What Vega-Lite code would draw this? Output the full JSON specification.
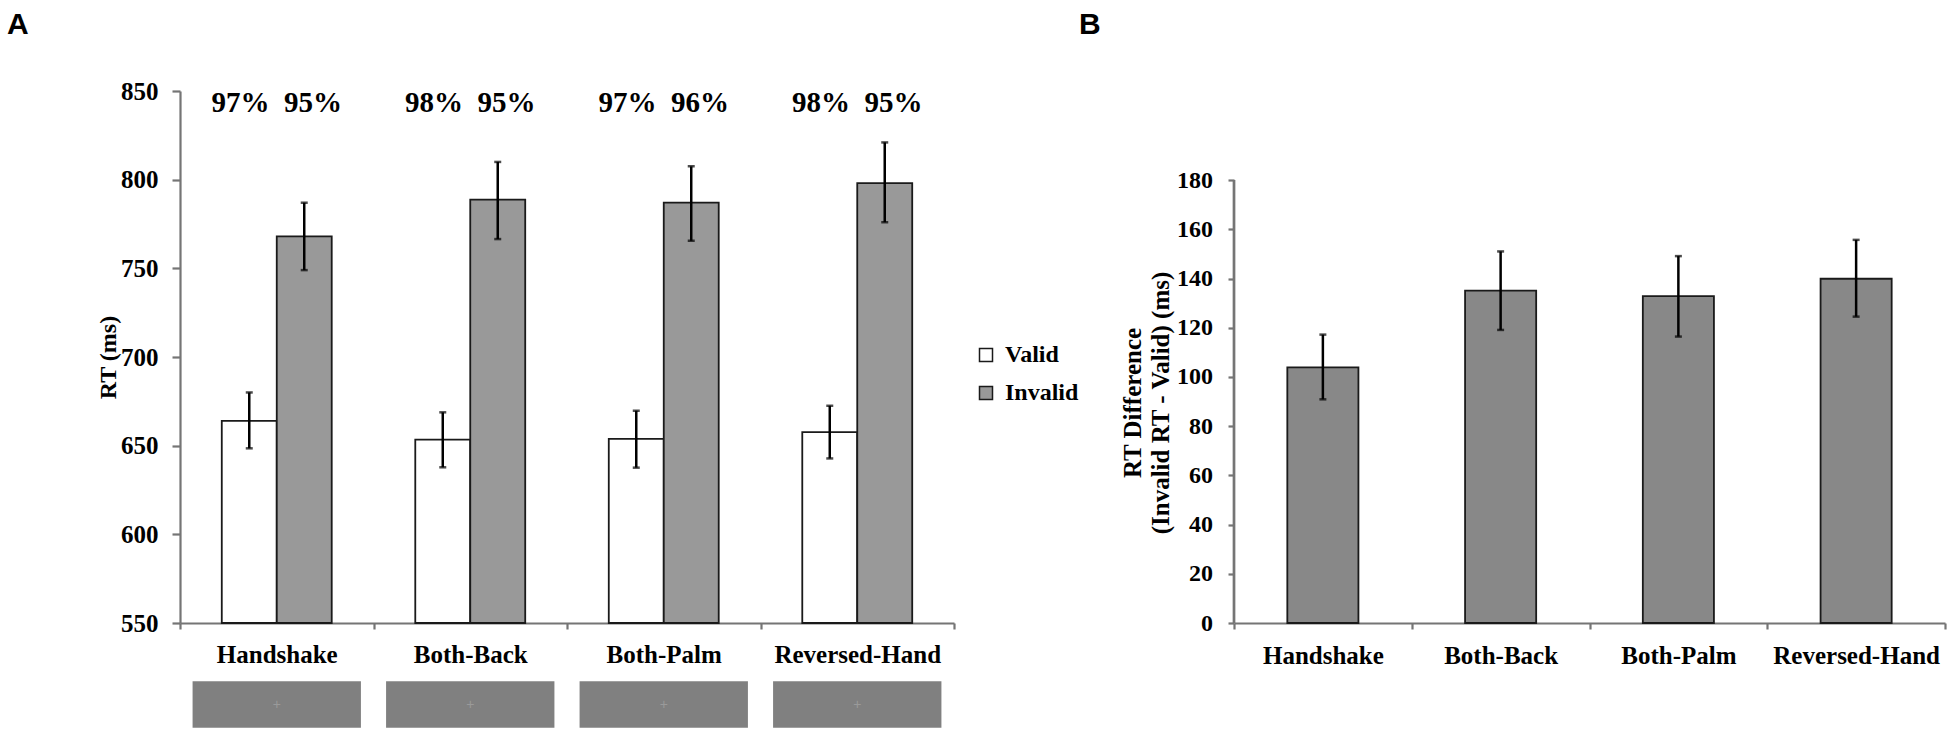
{
  "$schema": "https://vega.github.io/schema/vega-lite/v6.json",
  "background": "white",
  "padding": {"left": 7, "top": 9, "right": 0, "bottom": 0},
  "config": {
    "view": {"stroke": null},
    "font": "Liberation Serif",
    "axis": {
      "labelFont": "Liberation Serif",
      "labelFontWeight": "bold",
      "labelColor": "black",
      "labelFontSize": 24,
      "titleFont": "Liberation Serif",
      "titleFontWeight": "bold",
      "titleColor": "black",
      "titleFontSize": 24,
      "domainColor": "#757575",
      "tickColor": "#757575",
      "domainWidth": 2.2,
      "tickWidth": 2.2,
      "tickSize": 6,
      "grid": false,
      "labelOverlap": false
    }
  },
  "datasets": {
    "rt": [
      {"grip": "Handshake", "cue": "Valid", "rt": 664.0, "lo": 648.5, "hi": 680.0},
      {"grip": "Handshake", "cue": "Invalid", "rt": 768.0, "lo": 749.0, "hi": 787.0},
      {"grip": "Both-Back", "cue": "Valid", "rt": 653.4, "lo": 637.8, "hi": 668.8},
      {"grip": "Both-Back", "cue": "Invalid", "rt": 788.7, "lo": 766.5, "hi": 810.0},
      {"grip": "Both-Palm", "cue": "Valid", "rt": 653.8, "lo": 637.6, "hi": 669.7},
      {"grip": "Both-Palm", "cue": "Invalid", "rt": 787.0, "lo": 765.5, "hi": 807.5},
      {"grip": "Reversed-Hand", "cue": "Valid", "rt": 657.6, "lo": 642.8, "hi": 672.5},
      {"grip": "Reversed-Hand", "cue": "Invalid", "rt": 798.0, "lo": 776.0, "hi": 821.0}
    ],
    "pct": [
      {"grip": "Handshake", "acc": "97%\u00a0 95%"},
      {"grip": "Both-Back", "acc": "98%\u00a0 95%"},
      {"grip": "Both-Palm", "acc": "97%\u00a0 96%"},
      {"grip": "Reversed-Hand", "acc": "98%\u00a0 95%"}
    ],
    "diff": [
      {"grip": "Handshake", "d": 103.9, "lo": 90.9, "hi": 117.2},
      {"grip": "Both-Back", "d": 135.1, "lo": 119.1, "hi": 151.0},
      {"grip": "Both-Palm", "d": 132.8, "lo": 116.4, "hi": 149.1},
      {"grip": "Reversed-Hand", "d": 139.9, "lo": 124.5, "hi": 155.7}
    ]
  },
  "spacing": 0,
  "resolve": {
    "scale": {"x": "independent", "y": "independent", "fill": "independent", "xOffset": "independent"},
    "legend": {"fill": "independent"},
    "axis": {"x": "independent", "y": "independent"}
  },
  "hconcat": [
    {
      "width": 774,
      "height": 532,
      "title": {"text": "A", "anchor": "start", "frame": "group", "dx": -173, "offset": 39.5, "font": "Liberation Sans", "fontSize": 30, "fontWeight": "bold", "color": "black"},
      "layer": [
        {
          "data": {"name": "rt"},
          "mark": {"type": "bar", "stroke": "#1a1a1a", "strokeWidth": 1.8},
          "encoding": {
            "x": {"field": "grip", "type": "nominal", "sort": ["Handshake", "Both-Back", "Both-Palm", "Reversed-Hand"], "title": null,
                  "scale": {"paddingInner": 0, "paddingOuter": 0},
                  "axis": {"title": null, "tickBand": "extent", "labelAngle": 0, "labelFontSize": 25, "labelBaseline": "alphabetic", "labelPadding": 33.5}},
            "xOffset": {"field": "cue", "type": "nominal", "sort": ["Valid", "Invalid"], "scale": {"paddingInner": 0, "paddingOuter": 0.76}},
            "y": {"field": "rt", "type": "quantitative", "title": "RT (ms)",
                  "scale": {"domain": [550, 850], "nice": false, "zero": false},
                  "axis": {"values": [550, 600, 650, 700, 750, 800, 850], "labelFontSize": 25, "tickSize": 8, "labelPadding": 14, "labelBaseline": "middle", "titleX": -64.5, "titleBaseline": "alphabetic"}},
            "y2": {"datum": 550},
            "fill": {"field": "cue", "type": "nominal", "sort": ["Valid", "Invalid"],
                     "scale": {"domain": ["Valid", "Invalid"], "range": ["#ffffff", "#999999"]},
                     "legend": {"orient": "none", "legendX": 794, "legendY": 252, "title": null, "symbolType": "square", "symbolSize": 169,
                                "symbolStrokeColor": "#1a1a1a", "symbolStrokeWidth": 1.5, "labelFont": "Liberation Serif", "labelFontWeight": "bold",
                                "labelFontSize": 24, "labelColor": "black", "labelOffset": 7, "rowPadding": 14, "padding": 0}}
          }
        },
        {
          "data": {"name": "rt"},
          "mark": {"type": "rule", "color": "black", "strokeWidth": 2.5},
          "encoding": {
            "x": {"field": "grip", "type": "nominal", "sort": ["Handshake", "Both-Back", "Both-Palm", "Reversed-Hand"], "title": null},
            "xOffset": {"field": "cue", "type": "nominal", "sort": ["Valid", "Invalid"]},
            "y": {"field": "lo", "type": "quantitative", "title": "RT (ms)"},
            "y2": {"field": "hi"}
          }
        },
        {
          "data": {"name": "rt"},
          "mark": {"type": "tick", "color": "black", "thickness": 2.5, "size": 7},
          "encoding": {
            "x": {"field": "grip", "type": "nominal", "sort": ["Handshake", "Both-Back", "Both-Palm", "Reversed-Hand"], "title": null},
            "xOffset": {"field": "cue", "type": "nominal", "sort": ["Valid", "Invalid"]},
            "y": {"field": "lo", "type": "quantitative", "title": "RT (ms)"}
          }
        },
        {
          "data": {"name": "rt"},
          "mark": {"type": "tick", "color": "black", "thickness": 2.5, "size": 7},
          "encoding": {
            "x": {"field": "grip", "type": "nominal", "sort": ["Handshake", "Both-Back", "Both-Palm", "Reversed-Hand"], "title": null},
            "xOffset": {"field": "cue", "type": "nominal", "sort": ["Valid", "Invalid"]},
            "y": {"field": "hi", "type": "quantitative", "title": "RT (ms)"}
          }
        },
        {
          "data": {"name": "pct"},
          "mark": {"type": "text", "font": "Liberation Serif", "fontWeight": "bold", "fontSize": 29, "color": "black", "align": "center", "baseline": "alphabetic"},
          "encoding": {
            "x": {"field": "grip", "type": "nominal", "sort": ["Handshake", "Both-Back", "Both-Palm", "Reversed-Hand"], "title": null},
            "y": {"datum": 838, "type": "quantitative", "title": "RT (ms)"},
            "text": {"field": "acc"}
          }
        },
        {
          "data": {"name": "pct"},
          "mark": {"type": "bar", "width": {"band": 0.87}, "fill": "#808080", "stroke": null},
          "encoding": {
            "x": {"field": "grip", "type": "nominal", "sort": ["Handshake", "Both-Back", "Both-Palm", "Reversed-Hand"], "title": null},
            "y": {"datum": 517.2, "type": "quantitative", "title": "RT (ms)"},
            "y2": {"datum": 490.9}
          }
        },
        {
          "data": {"name": "pct"},
          "mark": {"type": "text", "text": "+", "font": "Liberation Sans", "fontSize": 14, "color": "#9a9a9a", "align": "center", "baseline": "middle"},
          "encoding": {
            "x": {"field": "grip", "type": "nominal", "sort": ["Handshake", "Both-Back", "Both-Palm", "Reversed-Hand"], "title": null},
            "y": {"datum": 504, "type": "quantitative", "title": "RT (ms)"}
          }
        }
      ]
    },
    {
      "width": 711,
      "height": 532,
      "title": {"text": "B", "anchor": "start", "frame": "group", "dx": -155, "offset": 51.5, "font": "Liberation Sans", "fontSize": 30, "fontWeight": "bold", "color": "black"},
      "layer": [
        {
          "data": {"name": "diff"},
          "mark": {"type": "bar", "width": {"band": 0.4}, "fill": "#888888", "stroke": "#1a1a1a", "strokeWidth": 1.8},
          "encoding": {
            "x": {"field": "grip", "type": "nominal", "sort": ["Handshake", "Both-Back", "Both-Palm", "Reversed-Hand"], "title": null,
                  "scale": {"paddingInner": 0, "paddingOuter": 0},
                  "axis": {"title": null, "tickBand": "extent", "labelAngle": 0, "labelFontSize": 25, "labelBaseline": "alphabetic", "labelPadding": 34}},
            "y": {"field": "d", "type": "quantitative", "title": ["RT Difference", "(Invalid RT - Valid) (ms)"],
                  "scale": {"domain": [0, 216.2], "nice": false},
                  "axis": {"values": [0, 20, 40, 60, 80, 100, 120, 140, 160, 180], "domain": false, "titleFontSize": 25,
                           "labelPadding": 15.5, "labelBaseline": "middle", "titleX": -94, "titleY": 311.5, "titleBaseline": "alphabetic", "titleLineHeight": 28}}
          }
        },
        {
          "data": {"name": "diff"},
          "mark": {"type": "rule", "color": "#757575", "strokeWidth": 2.2},
          "encoding": {
            "x": {"datum": "Handshake", "bandPosition": 0, "title": null},
            "y": {"datum": 0, "type": "quantitative", "title": ["RT Difference", "(Invalid RT - Valid) (ms)"]},
            "y2": {"datum": 180}
          }
        },
        {
          "data": {"name": "diff"},
          "mark": {"type": "rule", "color": "black", "strokeWidth": 2.5},
          "encoding": {
            "x": {"field": "grip", "type": "nominal", "sort": ["Handshake", "Both-Back", "Both-Palm", "Reversed-Hand"], "title": null},
            "y": {"field": "lo", "type": "quantitative", "title": ["RT Difference", "(Invalid RT - Valid) (ms)"]},
            "y2": {"field": "hi"}
          }
        },
        {
          "data": {"name": "diff"},
          "mark": {"type": "tick", "color": "black", "thickness": 2.5, "size": 7},
          "encoding": {
            "x": {"field": "grip", "type": "nominal", "sort": ["Handshake", "Both-Back", "Both-Palm", "Reversed-Hand"], "title": null},
            "y": {"field": "lo", "type": "quantitative", "title": ["RT Difference", "(Invalid RT - Valid) (ms)"]}
          }
        },
        {
          "data": {"name": "diff"},
          "mark": {"type": "tick", "color": "black", "thickness": 2.5, "size": 7},
          "encoding": {
            "x": {"field": "grip", "type": "nominal", "sort": ["Handshake", "Both-Back", "Both-Palm", "Reversed-Hand"], "title": null},
            "y": {"field": "hi", "type": "quantitative", "title": ["RT Difference", "(Invalid RT - Valid) (ms)"]}
          }
        }
      ]
    }
  ]
}
